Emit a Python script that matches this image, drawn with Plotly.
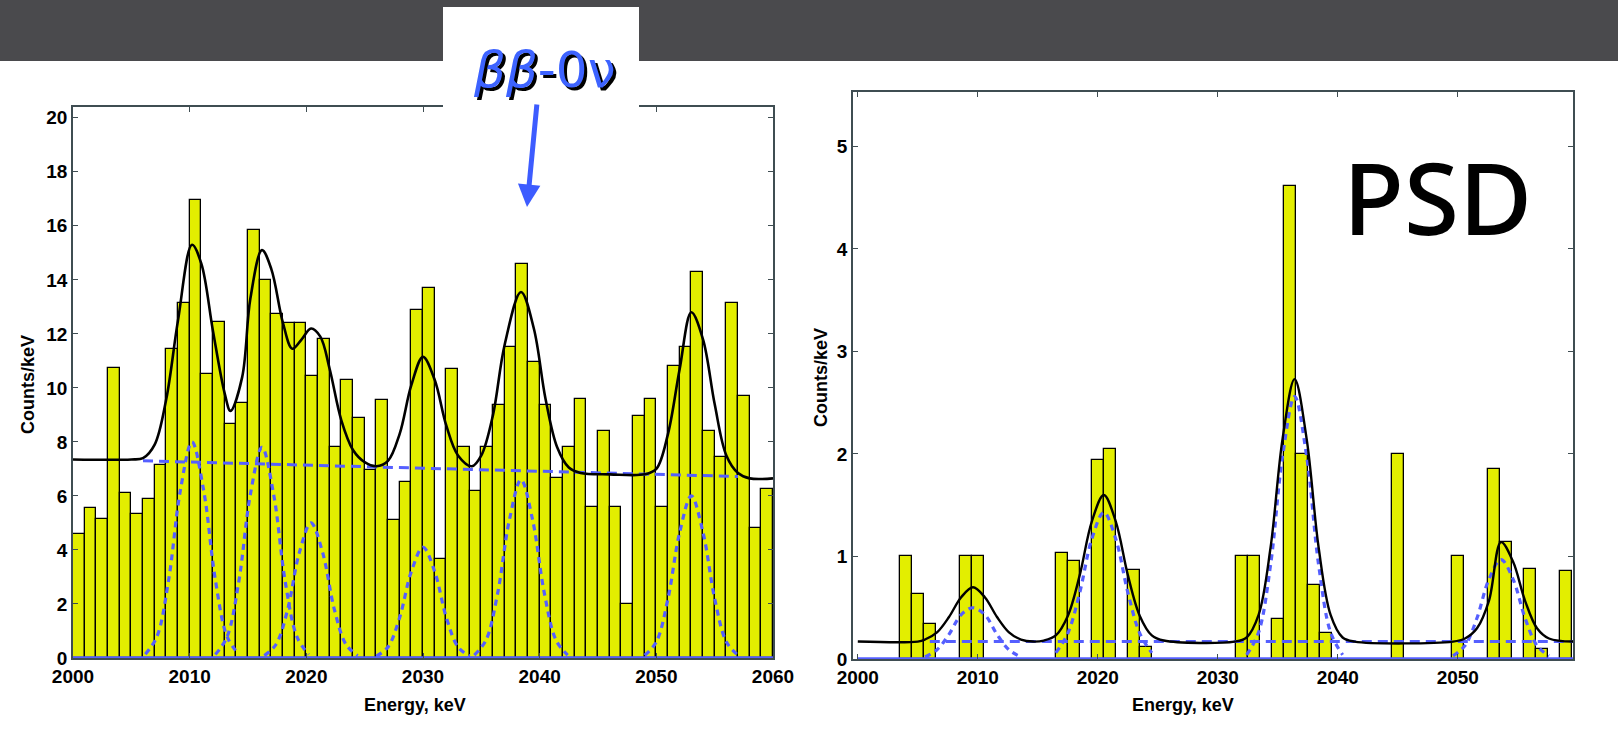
import numpy as np
import plotly.graph_objects as go

W, H = 1618, 750

# ---------------- data: left panel (all events) ----------------
left_bin_start = 2000          # 1 keV bins, 2000..2060
left_counts = [4.6, 5.55, 5.15, 10.75, 6.1, 5.35, 5.9, 7.15, 11.45, 13.15,
               16.95, 10.5, 12.45, 8.65, 9.45, 15.85, 14.0, 12.75, 12.4, 12.4,
               10.45, 11.8, 7.8, 10.3, 8.9, 6.95, 9.55, 5.1, 6.5, 12.9,
               13.7, 3.65, 10.7, 7.8, 6.2, 7.8, 9.35, 11.5, 14.6, 10.95,
               9.35, 6.65, 7.8, 9.6, 5.6, 8.4, 5.6, 2.0, 8.95, 9.6,
               5.6, 10.8, 11.5, 14.3, 8.4, 7.45, 13.15, 9.7, 4.8, 6.25]

left_fit_x = [2000, 2005, 2006, 2007, 2008, 2009, 2010.2, 2011, 2012, 2013, 2013.5,
              2014.5, 2015.2, 2016.2, 2017, 2018, 2018.8, 2019.6, 2020.4, 2021.2, 2022,
              2023, 2024, 2025, 2026, 2027, 2028, 2029, 2030, 2031, 2032,
              2033, 2034.2, 2035, 2036, 2037, 2038.4, 2039.5, 2040.5, 2041.5, 2042.5,
              2043.5, 2046, 2049, 2050, 2051, 2052, 2053, 2054, 2055, 2056,
              2057, 2058, 2060]
left_fit_y = [7.35, 7.35, 7.4, 7.9, 9.6, 12.5, 15.3, 14.6, 12.1, 9.8, 9.15,
              10.4, 13.3, 15.1, 14.4, 12.4, 11.45, 11.8, 12.2, 11.9, 10.7,
              8.8, 7.7, 7.25, 7.1, 7.3, 8.3, 10.1, 11.15, 10.3, 8.6,
              7.5, 7.1, 7.5, 9.0, 11.6, 13.55, 12.2, 9.6, 7.8, 7.05,
              6.85, 6.8, 6.8, 7.0, 8.3, 10.7, 12.8, 11.8, 9.4, 7.5,
              6.85, 6.65, 6.65]

left_bg_x = [2006, 2057]
left_bg_y = [7.3, 6.72]

left_peak_centers = [2010.2, 2016.2, 2020.4, 2030.0, 2038.4, 2053.0]
peak_offsets = [-4, -3, -2, -1, 0, 1, 2, 3, 4]
left_peak_values = [
    [0.14, 0.8, 2.9, 6.2, 8.0, 6.2, 2.9, 0.8, 0.14],
    [0.13, 0.78, 2.8, 6.05, 7.8, 6.05, 2.8, 0.78, 0.13],
    [0.09, 0.5, 1.8, 3.9, 5.0, 3.9, 1.8, 0.5, 0.09],
    [0.07, 0.41, 1.5, 3.2, 4.1, 3.2, 1.5, 0.41, 0.07],
    [0.11, 0.66, 2.4, 5.1, 6.6, 5.1, 2.4, 0.66, 0.11],
    [0.1, 0.6, 2.2, 4.65, 6.0, 4.65, 2.2, 0.6, 0.1],
]
left_xticks = [2000, 2010, 2020, 2030, 2040, 2050, 2060]
left_yticks = [0, 2, 4, 6, 8, 10, 12, 14, 16, 18, 20]

# ---------------- data: right panel (PSD) ----------------
right_energy = [2004, 2005, 2006, 2009, 2010, 2017, 2018, 2020, 2021, 2023, 2024,
                2032, 2033, 2035, 2036, 2037, 2038, 2039, 2045, 2050, 2053, 2054,
                2056, 2057, 2059]
right_counts = [1.0, 0.63, 0.34, 1.0, 1.0, 1.03, 0.96, 1.94, 2.05, 0.87, 0.12,
                1.0, 1.0, 0.39, 4.61, 2.0, 0.72, 0.25, 2.0, 1.0, 1.85, 1.14,
                0.88, 0.1, 0.86]

right_fit_x = [2000, 2005, 2005.6, 2006.6, 2007.6, 2008.6, 2009.6, 2010.6, 2011.6, 2012.6, 2013.6,
               2014.6, 2015.5, 2016.5, 2017.5, 2018.5, 2019.5, 2020.5, 2021.5, 2022.5, 2023.5,
               2024.5, 2025.5, 2031.4, 2032.4, 2033.4, 2034.4, 2035.4, 2036.4, 2037.4, 2038.4,
               2039.4, 2040.4, 2041.4, 2049.6, 2050.6, 2051.6, 2052.6, 2053.6, 2054.6, 2055.6,
               2056.6, 2057.6, 2059.6]
right_fit_y = [0.17, 0.17, 0.19, 0.26, 0.41, 0.6, 0.70, 0.6, 0.41, 0.26, 0.19,
               0.17, 0.18, 0.23, 0.42, 0.82, 1.34, 1.6, 1.34, 0.82, 0.42,
               0.23, 0.18, 0.17, 0.21, 0.43, 1.09, 2.15, 2.73, 2.15, 1.09,
               0.43, 0.21, 0.17, 0.17, 0.2, 0.3, 0.57, 1.14, 0.95, 0.57,
               0.3, 0.2, 0.17]

right_bg_x = [2006, 2059.6]
right_bg_y = [0.17, 0.17]

right_peak_centers = [2009.6, 2020.5, 2036.4, 2053.6]
right_peak_values = [
    [0.02, 0.09, 0.24, 0.43, 0.5, 0.43, 0.24, 0.09, 0.02],
    [0.06, 0.25, 0.65, 1.17, 1.43, 1.17, 0.65, 0.25, 0.06],
    [0.04, 0.26, 0.92, 1.98, 2.56, 1.98, 0.92, 0.26, 0.04],
    [0.03, 0.13, 0.4, 0.78, 0.97, 0.78, 0.4, 0.13, 0.03],
]
right_xticks = [2000, 2010, 2020, 2030, 2040, 2050]
right_yticks = [0, 1, 2, 3, 4, 5]

# ---------------- styles ----------------
YELLOW = "#e3ee00"
BLUE = "rgb(85,95,255)"
AXIS = "#3f4d52"
FONT = "Liberation Sans, Arial, Helvetica, sans-serif"


def px(x):
    return x / W


def py(y):
    return 1 - y / H


fig = go.Figure()

# left bars
left_x = [left_bin_start + 0.5 + i for i in range(len(left_counts))]
fig.add_trace(go.Bar(x=left_x, y=left_counts, width=1.0, xaxis="x", yaxis="y",
                     marker=dict(color=YELLOW, line=dict(color="black", width=1.3))))
# left components
fig.add_trace(go.Scatter(x=[2000, 2060], y=[0, 0], mode="lines", xaxis="x", yaxis="y",
                         line=dict(color=BLUE, width=3.5)))
for c, vals in zip(left_peak_centers, left_peak_values):
    fig.add_trace(go.Scatter(x=[c + o for o in peak_offsets], y=vals, mode="lines",
                             line_shape="spline", xaxis="x", yaxis="y",
                             line=dict(color=BLUE, width=3.2, dash="6px,5px")))
fig.add_trace(go.Scatter(x=left_bg_x, y=left_bg_y, mode="lines", xaxis="x", yaxis="y",
                         line=dict(color=BLUE, width=3, dash="10px,6px")))
fig.add_trace(go.Scatter(x=left_fit_x, y=left_fit_y, mode="lines", line_shape="spline",
                         xaxis="x", yaxis="y", line=dict(color="black", width=2.6)))

# right bars
fig.add_trace(go.Bar(x=right_energy, y=right_counts, width=1.0, xaxis="x2", yaxis="y2",
                     marker=dict(color=YELLOW, line=dict(color="black", width=1.3))))
fig.add_trace(go.Scatter(x=[2000, 2059.6], y=[0, 0], mode="lines", xaxis="x2", yaxis="y2",
                         line=dict(color=BLUE, width=3.5)))
for c, vals in zip(right_peak_centers, right_peak_values):
    fig.add_trace(go.Scatter(x=[c + o for o in peak_offsets], y=vals, mode="lines",
                             line_shape="spline", xaxis="x2", yaxis="y2",
                             line=dict(color=BLUE, width=3.2, dash="6px,5px")))
fig.add_trace(go.Scatter(x=right_bg_x, y=right_bg_y, mode="lines", xaxis="x2", yaxis="y2",
                         line=dict(color=BLUE, width=3, dash="10px,6px")))
fig.add_trace(go.Scatter(x=right_fit_x, y=right_fit_y, mode="lines", line_shape="spline",
                         xaxis="x2", yaxis="y2", line=dict(color="black", width=2.4)))

tickfont = dict(family=FONT, size=19, color="black", weight=700)
axcommon = dict(showline=True, linecolor=AXIS, linewidth=1.8, mirror="ticks",
                ticks="inside", ticklen=5, tickwidth=1.4, tickcolor=AXIS,
                showgrid=False, zeroline=False, tickfont=tickfont, fixedrange=True,
                automargin=False)

fig.update_layout(
    width=W, height=H,
    margin=dict(l=0, r=0, t=0, b=0, pad=0, autoexpand=False),
    paper_bgcolor="white", plot_bgcolor="rgba(0,0,0,0)",
    showlegend=False, bargap=0, barmode="overlay",
    xaxis=dict(domain=[px(73), px(773)], range=[2000, 2060], tickvals=left_xticks,
               anchor="y", **axcommon),
    yaxis=dict(domain=[py(658), py(107)], range=[0, 20.4], tickvals=left_yticks,
               anchor="x", **axcommon),
    xaxis2=dict(domain=[px(853), px(1573)], range=[1999.6, 2059.6], tickvals=right_xticks,
                anchor="y2", **axcommon),
    yaxis2=dict(domain=[py(659), py(92)], range=[0, 5.53], tickvals=right_yticks,
                anchor="x2", **axcommon),
)

shapes = [
    dict(type="rect", xref="paper", yref="paper", x0=0, x1=1, y0=py(61), y1=1,
         fillcolor="#4a4a4d", line=dict(width=0), layer="below"),
    dict(type="rect", xref="paper", yref="paper", x0=px(443), x1=px(639), y0=py(112), y1=py(7),
         fillcolor="white", line=dict(width=0), layer="above"),
]
fig.update_layout(shapes=shapes)

title_font = dict(family=FONT, size=18, color="black", weight=700)
C = dict(xref="paper", yref="paper", xanchor="center", yanchor="middle", showarrow=False)
annotations = [
    dict(text="Counts/keV", x=px(28), y=py(385), textangle=-90, font=title_font, **C),
    dict(text="Counts/keV", x=px(821), y=py(377), textangle=-90, font=title_font, **C),
    dict(text="Energy, keV", x=px(415), y=py(705), font=title_font, **C),
    dict(text="Energy, keV", x=px(1183), y=py(705), font=title_font, **C),
    # shadow + text for the label
    dict(text="<i>ββ</i>-0ν", x=px(547), y=py(73),
         font=dict(family="DejaVu Sans, sans-serif", size=50, color="black"), **C),
    dict(text="<i>ββ</i>-0ν", x=px(544), y=py(70),
         font=dict(family="DejaVu Sans, sans-serif", size=50, color="#3d63ff"), **C),
    dict(text="", xref="paper", yref="paper", x=px(527), y=py(207),
         ax=10, ay=-104, showarrow=True, arrowhead=2, arrowsize=0.9, arrowwidth=5,
         arrowcolor="#3d5cff"),
    dict(text="PSD", x=px(1437), y=py(196),
         font=dict(family="Comic Sans MS, Noto Sans, sans-serif", size=100,
                   color="black", weight=500), **C),
]
fig.update_layout(annotations=annotations)

fig.write_html("out.html", config={"displayModeBar": False},
               post_script="document.body.style.margin='0';document.body.style.padding='0';")
